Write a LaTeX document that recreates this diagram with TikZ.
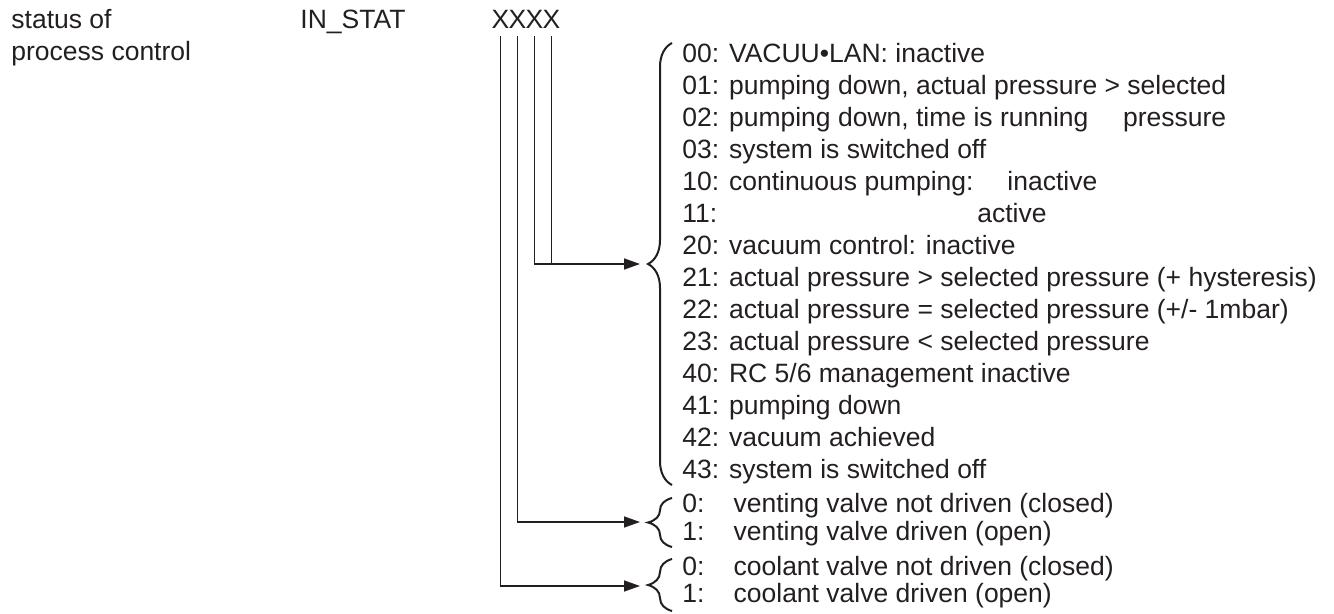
\documentclass[tikz,border=0pt]{standalone}
\usepackage{fontspec}
\setmainfont{Liberation Sans}
\usetikzlibrary{arrows.meta,positioning,decorations.pathreplacing,calc}
\definecolor{instatInk}{RGB}{35,31,32}

\begin{document}
\begin{tikzpicture}[x=0.5pt, y=-0.5pt,
    lbl/.style={anchor=base west, inner sep=0pt, text=instatInk,
                font=\fontsize{13.25}{16}\selectfont},
    digit/.style={lbl, anchor=base},
    wire/.style={draw=instatInk, line width=0.75pt},
    feed/.style={wire, -{Triangle[length=8pt, width=5.5pt]}},
    curly/.style={draw=instatInk, line width=1pt, decorate,
                  decoration={brace, amplitude=12pt}}
  ]
  \useasboundingbox (0,0) rectangle (1334,614);

  \node[lbl] (title1) at (11,29) {status of};
  \node[lbl] (title2) at (11,61) {process control};
  \node[lbl] (param)  at (300,29) {IN\_STAT};
  \foreach \i/\x in {1/500.5, 2/517.5, 3/534.5, 4/551.5}
    \node[digit] (x\i) at (\x,29) {X};

  \foreach \code/\txt [count=\n from 0] in {
      00/{VACUU•LAN: inactive},
      01/{pumping down, actual pressure > selected},
      02/{pumping down, time is running},
      03/{system is switched off},
      10/{continuous pumping:},
      11/{},
      20/{vacuum control: inactive},
      21/{actual pressure > selected pressure (+ hysteresis)},
      22/{actual pressure = selected pressure (+/- 1mbar)},
      23/{actual pressure < selected pressure},
      40/{RC 5/6 management inactive},
      41/{pumping down},
      42/{vacuum achieved},
      43/{system is switched off}}
    \node[lbl] (r\code) at (682,63+32*\n) {\code: \txt};
  \node[lbl, anchor=base east] (r02b) at (r01.base east |- r02.base) {pressure};
  \node[lbl] (r10b) at (1007,191) {inactive};
  \node[lbl, anchor=base east] (r11b) at (1047,223) {active};

  \node[lbl] (vent0) at (682,513) {0:\hspace{1.1em}venting valve not driven (closed)};
  \node[lbl] (vent1) at (682,541) {1:\hspace{1.1em}venting valve driven (open)};
  \node[lbl] (cool0) at (682,575) {0:\hspace{1.1em}coolant valve not driven (closed)};
  \node[lbl] (cool1) at (682,603) {1:\hspace{1.1em}coolant valve driven (open)};

  \draw[curly] (672,485) -- (672,43);
  \draw[curly] (672,547) -- (672,498);
  \draw[curly] (672,611) -- (672,559);

  \coordinate (tipA) at (640,264);
  \coordinate (tipB) at (640,522);
  \coordinate (tipC) at (640,586);

  \draw[feed] ([yshift=-3.5pt]x3.south) |- (tipA);
  \draw[wire] ([yshift=-3.5pt]x4.south) -- (x4.south |- tipA);
  \draw[feed] ([yshift=-3.5pt]x2.south) |- (tipB);
  \draw[feed] ([yshift=-3.5pt]x1.south) |- (tipC);
\end{tikzpicture}
\end{document}
